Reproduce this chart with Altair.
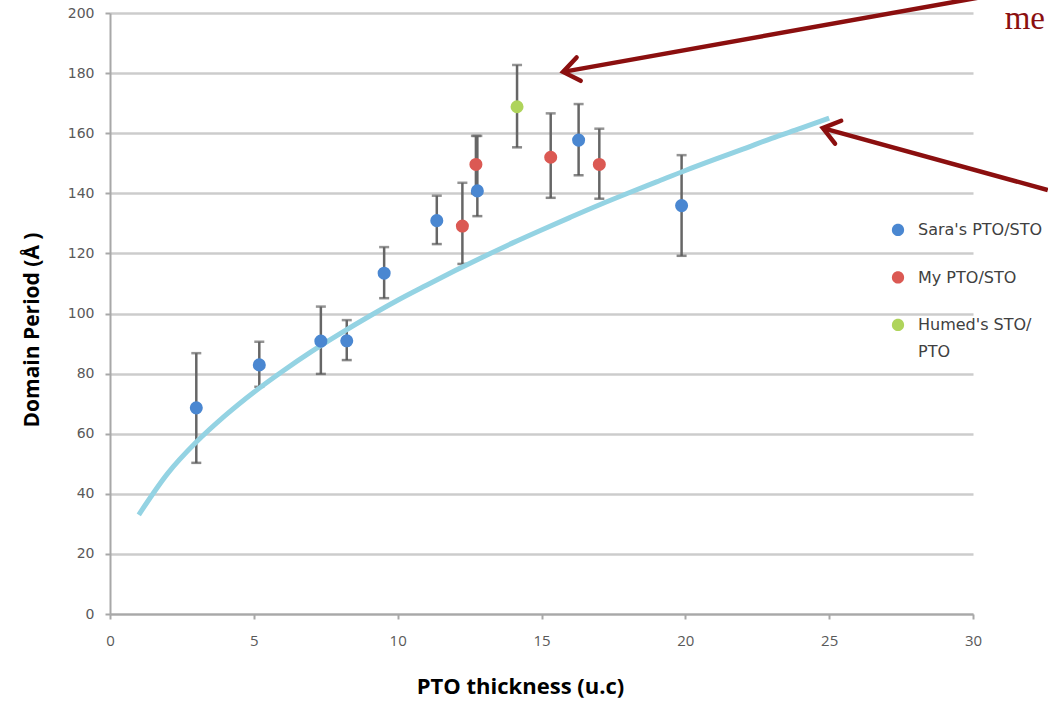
import altair as alt
import pandas as pd

# ---- data ----
sara_x = [3.0, 5.19, 7.33, 8.23, 9.53, 11.36, 12.77, 16.29, 19.87]
sara_y = [68.6, 82.9, 90.8, 90.9, 113.4, 130.9, 140.8, 157.7, 135.9]
sara_lo = [50.3, 75.6, 79.9, 84.5, 105.1, 123.1, 132.4, 146.0, 119.2]
sara_hi = [86.8, 90.6, 102.3, 97.8, 122.1, 139.2, 159.1, 169.7, 152.7]

my_x = [12.25, 12.72, 15.32, 17.01]
my_y = [129.1, 149.6, 152.0, 149.6]
my_lo = [116.5, 140.0, 138.5, 138.2]
my_hi = [143.5, 159.1, 166.6, 161.5]

humed_x = [14.15]
humed_y = [168.8]
humed_lo = [155.3]
humed_hi = [182.7]

series_names = ["Sara's PTO/STO", "My PTO/STO", "Humed's STO/PTO"]
series_colors = ["#4A87D1", "#DB5953", "#AFD45B"]

curve_x = list(range(1, 26))
curve_y = [33.0, 46.7, 57.2, 66.0, 73.8, 80.8, 87.3, 93.3, 99.0, 104.4, 109.4,
           114.3, 119.0, 123.5, 127.8, 132.0, 136.1, 140.0, 143.8, 147.6, 151.2,
           154.7, 158.3, 161.6, 165.0]

x_ticks = [0, 5, 10, 15, 20, 25, 30]
y_ticks = [0, 20, 40, 60, 80, 100, 120, 140, 160, 180, 200]

x_title = "PTO thickness (u.c)"
y_title = ["Domain Period (Å )"]
y_title_x = [-2.68]
y_title_y = [94.5]

# annotation arrows (data units): tip then tail
arrow_tip_x = [15.75, 24.78]
arrow_tip_y = [180.4, 161.7]
arrow_tail_x = [30.94, 32.6]
arrow_tail_y = [206.4, 141.1]
arrow_angle = [350, 15]

note_text = ["me"]
note_x = [31.1]
note_y = [194.7]

# ---- build tables ----
rows = []
for name, xs, ys, los, his in [
    (series_names[0], sara_x, sara_y, sara_lo, sara_hi),
    (series_names[1], my_x, my_y, my_lo, my_hi),
    (series_names[2], humed_x, humed_y, humed_lo, humed_hi),
]:
    for x, y, lo, hi in zip(xs, ys, los, his):
        rows.append({"series": name, "x": x, "y": y, "lo": lo, "hi": hi})
pts = pd.DataFrame(rows)
curve = pd.DataFrame({"x": curve_x, "y": curve_y})
arrows = pd.DataFrame({"x": arrow_tip_x, "y": arrow_tip_y,
                       "x2": arrow_tail_x, "y2": arrow_tail_y,
                       "angle": arrow_angle})
notes = pd.DataFrame({"x": note_x, "y": note_y, "t": note_text})
ytitle_df = pd.DataFrame({"x": y_title_x, "y": y_title_y, "t": y_title})

RED = "#8B0F0F"
FONT = "Open Sans"

xscale = alt.Scale(domain=[0, 30], nice=False, zero=False)
yscale = alt.Scale(domain=[0, 200], nice=False)

xax = alt.Axis(values=x_ticks, grid=False, title=x_title, labelFlush=False,
               labelFont=FONT, labelFontSize=15, labelPadding=14,
               titleFontSize=22, titlePadding=28, titleX=410)
yax = alt.Axis(values=y_ticks, grid=True, title=None, labelFlush=False,
               labelFont="DejaVu Sans", labelFontSize=14, labelPadding=11)

base = alt.Chart(pts)

err = base.mark_rule(color="#666666", strokeWidth=2.5).encode(
    x=alt.X("x:Q", scale=xscale, axis=xax),
    y=alt.Y("lo:Q", scale=yscale, axis=yax),
    y2="hi:Q",
)
cap_hi = base.mark_tick(color="#666666", orient="horizontal", size=10, thickness=2.5).encode(
    x=alt.X("x:Q", scale=xscale), y=alt.Y("hi:Q", scale=yscale))
cap_lo = base.mark_tick(color="#555555", orient="horizontal", size=10, thickness=2.5).encode(
    x=alt.X("x:Q", scale=xscale), y=alt.Y("lo:Q", scale=yscale))

line = alt.Chart(curve).mark_line(color="#94D3E3", strokeWidth=5, interpolate="monotone").encode(
    x=alt.X("x:Q", scale=xscale), y=alt.Y("y:Q", scale=yscale))

# legend symbol: circle drawn a little lower so it lines up with the first text line
legend_symbol = "M -1 1.3 A 1 1 0 1 1 1 1.3 A 1 1 0 1 1 -1 1.3 Z"

points = base.mark_circle(size=170, opacity=1).encode(
    x=alt.X("x:Q", scale=xscale),
    y=alt.Y("y:Q", scale=yscale),
    color=alt.Color("series:N",
                    scale=alt.Scale(domain=series_names, range=series_colors),
                    legend=alt.Legend(
                        title=None, orient="none", legendX=780, legendY=201,
                        symbolType=legend_symbol, symbolSize=150, symbolStrokeWidth=0,
                        labelFont="DejaVu Sans", labelFontSize=16, labelColor="#404040",
                        labelOffset=12, rowPadding=23.5, padding=0, labelLimit=250,
                        labelExpr="datum.label == \"Humed's STO/PTO\" ? [\"Humed's STO/\", 'PTO'] : datum.label",
                        labelBaseline="top",
                    )),
)

arrow_lines = alt.Chart(arrows).mark_rule(color=RED, strokeWidth=4.5).encode(
    x=alt.X("x:Q", scale=xscale), y=alt.Y("y:Q", scale=yscale),
    x2="x2:Q", y2="y2:Q")
arrow_heads = alt.Chart(arrows).mark_point(
    shape="M 1 -0.75 L 0 0 L 1 0.75", filled=False, stroke=RED, strokeWidth=4.5,
    size=1000, opacity=1, strokeCap="round").encode(
    x=alt.X("x:Q", scale=xscale), y=alt.Y("y:Q", scale=yscale),
    angle=alt.Angle("angle:Q", scale=None))

note = alt.Chart(notes).mark_text(font="Liberation Serif", fontSize=33, color=RED,
                                   align="left", baseline="alphabetic").encode(
    x=alt.X("x:Q", scale=xscale), y=alt.Y("y:Q", scale=yscale), text="t:N")

ytitle = alt.Chart(ytitle_df).mark_text(font=FONT, fontSize=21, fontWeight="bold",
                                        color="#000000", angle=270, align="center",
                                        baseline="middle").encode(
    x=alt.X("x:Q", scale=xscale), y=alt.Y("y:Q", scale=yscale), text="t:N")

chart = alt.layer(err, cap_hi, cap_lo, line, points, arrow_lines, arrow_heads, note, ytitle).properties(
    width=863, height=601,
    padding={"left": 110, "top": 13, "right": 75, "bottom": 91},
    autosize=alt.AutoSizeParams(type="none"),
    background="white",
).configure(
    style={"guide-label": {"lineHeight": 27}}
).configure_view(stroke=None).configure_axis(
    labelColor="#595959",
    titleFont=FONT, titleFontWeight="bold", titleColor="#000000",
    domainColor="#A8A8A8", domainWidth=2, tickColor="#A8A8A8", tickWidth=2, tickSize=5,
    gridColor="#CCCCCC", gridWidth=2.5,
)

chart.save("out.html", embed_options={"renderer": "svg", "actions": False})
